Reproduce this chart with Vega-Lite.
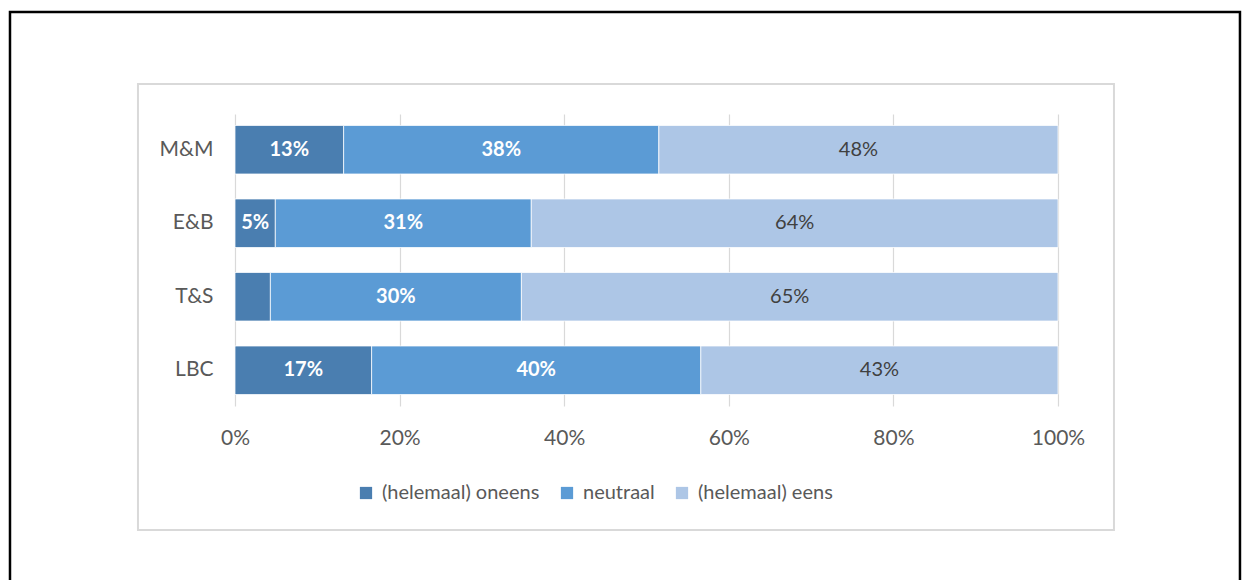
{
  "$schema": "https://vega.github.io/schema/vega-lite/v6.json",
  "autosize": {"type": "none"},
  "width": 823,
  "height": 292,
  "padding": {"left": 235, "top": 114, "right": 184, "bottom": 174},
  "background": "white",
  "config": {
    "view": {"stroke": null},
    "font": "Lato",
    "axis": {"labelFont": "Lato", "labelFontSize": 21, "labelColor": "#595959"},
    "legend": {"labelFont": "Lato", "labelFontSize": 20, "labelColor": "#595959"}
  },
  "layer": [
    {
      "data": {"values": [{}]},
      "mark": {"type": "rect", "fill": null, "stroke": "#d9d9d9", "strokeWidth": 2, "clip": false},
      "encoding": {
        "x": {"datum": -0.1179, "type": "quantitative", "scale": {"domain": [0, 1]}},
        "x2": {"datum": 1.068},
        "y": {"datum": 1.1027, "type": "quantitative", "scale": {"domain": [0, 1], "nice": false, "zero": false}, "axis": null},
        "y2": {"datum": -0.4247}
      }
    },
    {
      "data": {"values": [{}]},
      "mark": {"type": "rect", "fill": null, "stroke": "black", "strokeWidth": 2.5, "clip": false},
      "encoding": {
        "x": {"datum": -0.2734, "type": "quantitative", "scale": {"domain": [0, 1]}},
        "x2": {"datum": 1.2211},
        "y": {"datum": 1.3493, "type": "quantitative", "scale": {"domain": [0, 1], "nice": false, "zero": false}, "axis": null},
        "y2": {"datum": -0.664}
      }
    },
    {
      "data": {
        "values": [
          {"groep": "M&M", "antwoord": "(helemaal) oneens", "pct": 13.2, "label": "13%"},
          {"groep": "M&M", "antwoord": "neutraal", "pct": 38.3, "label": "38%"},
          {"groep": "M&M", "antwoord": "(helemaal) eens", "pct": 48.5, "label": "48%"},
          {"groep": "E&B", "antwoord": "(helemaal) oneens", "pct": 4.9, "label": "5%"},
          {"groep": "E&B", "antwoord": "neutraal", "pct": 31.1, "label": "31%"},
          {"groep": "E&B", "antwoord": "(helemaal) eens", "pct": 64.0, "label": "64%"},
          {"groep": "T&S", "antwoord": "(helemaal) oneens", "pct": 4.3, "label": ""},
          {"groep": "T&S", "antwoord": "neutraal", "pct": 30.5, "label": "30%"},
          {"groep": "T&S", "antwoord": "(helemaal) eens", "pct": 65.2, "label": "65%"},
          {"groep": "LBC", "antwoord": "(helemaal) oneens", "pct": 16.6, "label": "17%"},
          {"groep": "LBC", "antwoord": "neutraal", "pct": 40.0, "label": "40%"},
          {"groep": "LBC", "antwoord": "(helemaal) eens", "pct": 43.4, "label": "43%"}
        ]
      },
      "transform": [
        {"calculate": "indexof(['(helemaal) oneens','neutraal','(helemaal) eens'], datum.antwoord)", "as": "volgorde"},
        {"stack": "pct", "groupby": ["groep"], "sort": [{"field": "volgorde", "order": "ascending"}], "offset": "normalize", "as": ["start", "end"]},
        {"calculate": "(datum.start + datum.end) / 2", "as": "mid"}
      ],
      "layer": [
        {
          "mark": {"type": "bar", "stroke": "white", "strokeWidth": 0.75},
          "encoding": {
            "y": {
              "field": "groep", "type": "nominal",
              "sort": ["M&M", "E&B", "T&S", "LBC"],
              "scale": {"paddingInner": 0.34, "paddingOuter": 0.156},
              "axis": {"title": null, "domain": false, "ticks": false, "labelPadding": 22}
            },
            "x": {
              "field": "start", "type": "quantitative",
              "scale": {"domain": [0, 1]},
              "axis": {"title": null, "format": ".0%", "values": [0, 0.2, 0.4, 0.6, 0.8, 1], "domain": false, "ticks": false, "grid": true, "gridColor": "#d9d9d9", "gridWidth": 1.2, "labelPadding": 21, "labelFlush": false}
            },
            "x2": {"field": "end"},
            "color": {
              "field": "antwoord", "type": "nominal",
              "scale": {"domain": ["(helemaal) oneens", "neutraal", "(helemaal) eens"], "range": ["#4a7eb0", "#5b9bd5", "#adc6e6"]},
              "legend": {"title": null, "orient": "none", "legendX": 121, "legendY": 369, "direction": "horizontal", "symbolType": "square", "symbolSize": 150, "symbolStrokeWidth": 0, "columnPadding": 17, "labelOffset": 6}
            }
          }
        },
        {
          "transform": [{"filter": "datum.antwoord !== '(helemaal) eens'"}],
          "mark": {"type": "text", "color": "white", "fontWeight": "bold", "fontSize": 20, "font": "Lato", "baseline": "middle", "align": "center"},
          "encoding": {
            "y": {"field": "groep", "type": "nominal", "sort": ["M&M", "E&B", "T&S", "LBC"], "bandPosition": 0.5},
            "x": {"field": "mid", "type": "quantitative"},
            "text": {"field": "label"}
          }
        },
        {
          "transform": [{"filter": "datum.antwoord === '(helemaal) eens'"}],
          "mark": {"type": "text", "color": "#404040", "fontSize": 20, "font": "Lato", "baseline": "middle", "align": "center"},
          "encoding": {
            "y": {"field": "groep", "type": "nominal", "sort": ["M&M", "E&B", "T&S", "LBC"], "bandPosition": 0.5},
            "x": {"field": "mid", "type": "quantitative"},
            "text": {"field": "label"}
          }
        }
      ]
    }
  ],
  "resolve": {"scale": {"y": "independent"}}
}
